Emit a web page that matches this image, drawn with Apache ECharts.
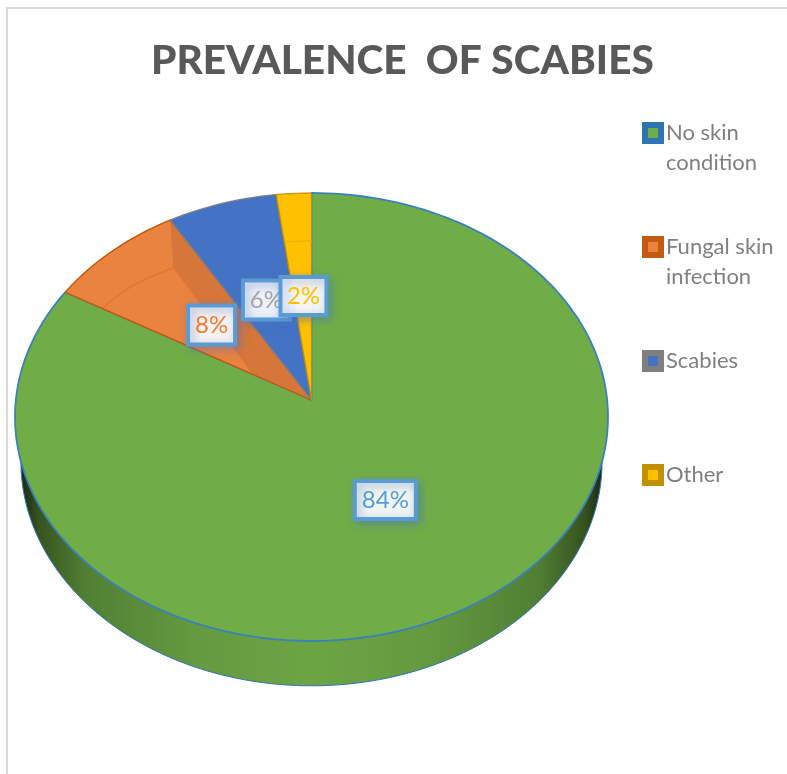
<!DOCTYPE html>
<html>
<head>
<meta charset="utf-8">
<style>html,body{margin:0;padding:0;background:#fff}#c{width:787px;height:774px}</style>
<script src="https://cdn.jsdelivr.net/npm/echarts@6/dist/echarts.min.js"></script>
</head>
<body>
<div id="c"></div>
<script>
const titleText = 'PREVALENCE  OF SCABIES';
const categories = ['No skin\ncondition', 'Fungal skin\ninfection', 'Scabies', 'Other'];
const values = [84.4, 7.7, 6, 1.9];

const fills = ['#70ad47', '#ea8340', '#4472c4', '#ffc000'];
const edges = ['#2e75b6', '#c55a11', '#7f7f7f', '#bf9000'];
const labelColors = ['#5b9bd5', '#ed7d31', '#a5a5a5', '#ffc000'];
const FONT = 'Lato, "Open Sans", sans-serif';

// Layout of the tilted disc, in the unit coordinates of the hidden axes
const apex = [0, 0.076];
const wall = { cy: -0.2, rx: 0.98 };
const labelAnchors = [[0.249, -0.371], [-0.337, 0.411], [-0.152, 0.522], [-0.027, 0.54]];
const labelSizes = [[61, 38], [47, 39], [47, 39], [46, 38]];
const legendTops = [88, 202, 346, 460];

const total = values.reduce((a, b) => a + b, 0);
const rim = (deg, cy = 0, rx = 1) => {
  const r = deg * Math.PI / 180;
  return [rx * Math.sin(r), cy + Math.cos(r)];
};
const arc = (from, to, cy, rx) => {
  const pts = [];
  const n = Math.max(2, Math.ceil(Math.abs(to - from) / 1.5));
  for (let i = 0; i <= n; i++) pts.push(rim(from + (to - from) * i / n, cy, rx));
  return pts;
};
const mix = (a, b, t) => [a[0] + (b[0] - a[0]) * t, a[1] + (b[1] - a[1]) * t];
const startDeg = i => values.slice(0, i).reduce((a, b) => a + b, 0) / total * 360;
const endDeg = i => startDeg(i + 1);

function depthItem(params, api) {
  const pts = arc(90, 270, wall.cy, wall.rx).map(p => api.coord(p));
  const x0 = api.coord([-wall.rx, 0])[0], x1 = api.coord([wall.rx, 0])[0];
  return {
    type: 'polygon',
    shape: { points: pts },
    style: {
      fill: new echarts.graphic.LinearGradient(x0, 0, x1, 0, [
        { offset: 0, color: '#1c2a12' },
        { offset: 0.03, color: '#36531f' },
        { offset: 0.11, color: '#507f33' },
        { offset: 0.3, color: '#659a40' },
        { offset: 0.5, color: '#6ca544' },
        { offset: 0.7, color: '#659a40' },
        { offset: 0.89, color: '#507f33' },
        { offset: 0.97, color: '#36531f' },
        { offset: 1, color: '#1c2a12' }
      ], true),
      stroke: '#2e75b6',
      lineWidth: 1
    }
  };
}

function sliceItem(i, api) {
  const a = startDeg(i), b = endDeg(i);
  const points = [apex].concat(arc(a, b, 0, 1)).map(p => api.coord(p));
  const children = [{
    type: 'polygon',
    shape: { points },
    style: { fill: fills[i], stroke: i === 0 ? '#3a80bd' : edges[i], lineWidth: i === 0 ? 1.8 : 1.2, lineJoin: 'round' }
  }];
  if (i === 1) {
    // bevel facets inside the fungal slice
    const top = rim(b), low = rim(a), mid = mix(apex, rim(a + (b - a) * 0.74), 0.8);
    const lowEnd = mix(apex, low, 0.85);
    const facet = [top, mid, mix(apex, low, 0.24), apex].map(p => api.coord(p));
    children.push({ type: 'polygon', shape: { points: facet }, style: { fill: '#d6763a' } });
    const bow = mix(mid, lowEnd, 0.5);
    const crease = [mid, [bow[0] - 0.017, bow[1] + 0.011], lowEnd].map(p => api.coord(p));
    children.push({
      type: 'polyline', shape: { points: crease, smooth: 0.4 },
      style: { fill: 'none', stroke: '#e0762f', lineWidth: 1.4 }
    });
    children.push({
      type: 'polygon', shape: { points },
      style: { fill: 'none', stroke: edges[i], lineWidth: 1.2, lineJoin: 'round' }
    });
  }
  if (i === 3) {
    const crease = [mix(apex, rim(a), 0.77), mix(apex, rim(b), 0.77)].map(p => api.coord(p));
    children.push({
      type: 'polyline', shape: { points: crease },
      style: { fill: 'none', stroke: '#efb00c', lineWidth: 1.4 }
    });
  }
  return { type: 'group', children };
}

function labelItem(params, api) {
  const i = params.dataIndex;
  const c = api.coord(labelAnchors[i]);
  const w = labelSizes[i][0], h = labelSizes[i][1];
  return {
    type: 'group',
    x: c[0], y: c[1],
    children: [{
      type: 'rect',
      shape: { x: -w / 2, y: -h / 2, width: w, height: h },
      style: {
        fill: 'rgba(255,255,255,0.9)', stroke: '#5b9bd5', lineWidth: 4,
        shadowBlur: 9, shadowColor: 'rgba(68,114,196,0.5)', shadowOffsetX: 3, shadowOffsetY: 3
      }
    }, {
      type: 'text',
      style: {
        x: 0, y: 0, text: Math.round(api.value(2)) + '%', fill: labelColors[i],
        font: '24px ' + FONT, align: 'center', verticalAlign: 'middle'
      }
    }]
  };
}

const hiddenAxis = { type: 'value', min: -1, max: 1, show: false };

const series = [{
  type: 'custom', name: 'depth', z: 1, silent: true, clip: false,
  coordinateSystem: 'cartesian2d',
  data: [[0, 0, total]],
  renderItem: depthItem
}].concat(categories.map((name, i) => ({
  type: 'custom', name, z: 2, silent: true, clip: false,
  coordinateSystem: 'cartesian2d',
  itemStyle: { color: fills[i] },
  data: [[0, 0, values[i]]],
  renderItem: (params, api) => sliceItem(i, api)
}))).concat([{
  type: 'custom', name: 'labels', z: 3, silent: true, clip: false,
  coordinateSystem: 'cartesian2d',
  data: values.map((v, i) => [labelAnchors[i][0], labelAnchors[i][1], v]),
  renderItem: labelItem
}]);

const chart = echarts.init(document.getElementById('c'), null, { renderer: 'canvas' });
chart.setOption({
  animation: false,
  backgroundColor: '#ffffff',
  title: {
    text: titleText, left: 151, top: 40, padding: 0,
    textStyle: { fontFamily: FONT, fontSize: 40.6, fontWeight: 900, color: '#595959' }
  },
  grid: { left: 15, top: 193, width: 593, height: 448 },
  xAxis: hiddenAxis,
  yAxis: hiddenAxis,
  legend: categories.map((name, i) => ({
    data: [name], orient: 'vertical', left: 642, top: legendTops[i],
    padding: 0, itemWidth: 16, itemHeight: 16, icon: 'rect', selectedMode: false,
    itemStyle: { color: fills[i], borderColor: edges[i], borderWidth: 6 },
    formatter: n => (n.indexOf('\n') >= 0 ? '\n' + n : n),
    textStyle: { fontFamily: FONT, fontSize: 22, color: '#7f7f7f', lineHeight: 30 }
  })),
  graphic: [{
    type: 'polyline', silent: true, z: 0,
    shape: { points: [[7, 774], [7, 8], [787, 8]] },
    style: { fill: 'none', stroke: '#d9d9d9', lineWidth: 2 }
  }],
  series
});
</script>
</body>
</html>
